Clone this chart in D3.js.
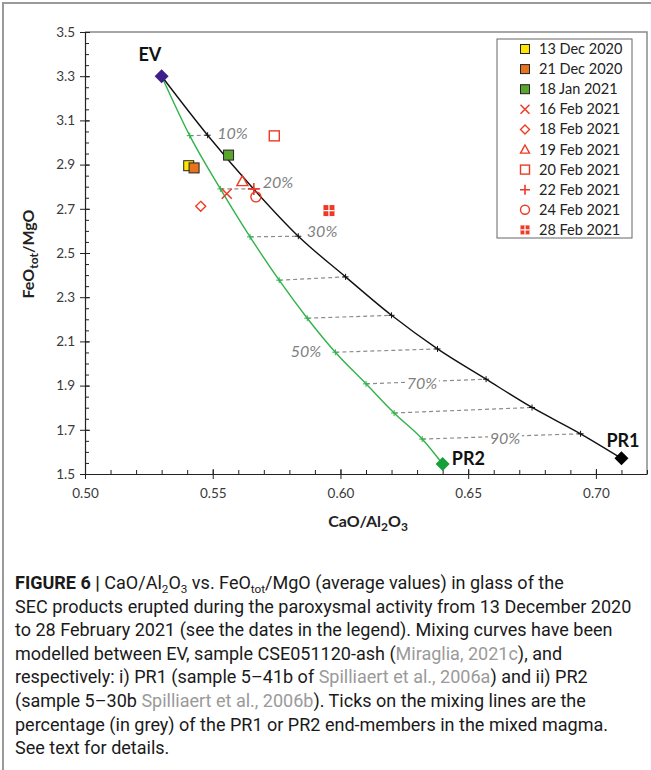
<!DOCTYPE html>
<html>
<head>
<meta charset="utf-8">
<script src="https://cdn.jsdelivr.net/npm/d3@7"></script>
<style>
  body { margin: 0; background: #fff; }
  svg { display: block; }
</style>
</head>
<body>
<svg id="fig" width="651" height="770"></svg>
<script>
// ---- data ----
const dates = ["13 Dec 2020", "21 Dec 2020", "18 Jan 2021", "16 Feb 2021", "18 Feb 2021",
               "19 Feb 2021", "20 Feb 2021", "22 Feb 2021", "24 Feb 2021", "28 Feb 2021"];
const caoAl2o3 = [0.5406, 0.5427, 0.5562, 0.5555, 0.5453, 0.5616, 0.5741, 0.5661, 0.5669, 0.5955];
const feoMgo   = [2.895, 2.885, 2.943, 2.768, 2.711, 2.825, 3.030, 2.790, 2.754, 2.692];

// end-members
const endNames = ["EV", "PR1", "PR2"];
const endX = [0.530, 0.710, 0.640];
const endY = [3.300, 1.571, 1.545];

// mixing ticks, 10% .. 90% of the PR end-member
const mixPercent = [10, 20, 30, 40, 50, 60, 70, 80, 90];
const pr1MixX = [0.548, 0.566, 0.5835, 0.602, 0.620, 0.638, 0.657, 0.675, 0.694];
const pr1MixY = [3.033, 2.790, 2.576, 2.392, 2.218, 2.066, 1.929, 1.801, 1.682];
const pr2MixX = [0.541, 0.553, 0.5646, 0.576, 0.587, 0.598, 0.610, 0.621, 0.632];
const pr2MixY = [3.031, 2.790, 2.573, 2.377, 2.205, 2.051, 1.908, 1.776, 1.658];

// grey percentage labels
const pctLabels = ["10%", "20%", "30%", "50%", "70%", "90%"];
const pctLabelX = [0.5577, 0.5755, 0.5928, 0.5865, 0.6319, 0.6644];
const pctLabelY = [3.042, 2.821, 2.600, 2.056, 1.908, 1.663];

// axis ticks
const xTicks = [0.50, 0.55, 0.60, 0.65, 0.70];
const yTicks = [1.5, 1.7, 1.9, 2.1, 2.3, 2.5, 2.7, 2.9, 3.1, 3.3, 3.5];

// ---- setup ----
let svg = d3.select("#fig");
let x = d3.scaleLinear().domain([0.50, 0.72]).range([85, 647]);
let y = d3.scaleLinear().domain([1.5, 3.5]).range([474, 32]);

const red = "#ee3a24";
// marker style per date (same order as dates)
const markerStyle = [
  {type: "square", fill: "#ffe600", stroke: "#222"},
  {type: "square", fill: "#e8731e", stroke: "#222"},
  {type: "square", fill: "#5ba52e", stroke: "#222"},
  {type: "x",      fill: "none", stroke: red},
  {type: "diamond",fill: "none", stroke: red},
  {type: "triangle",fill: "none", stroke: red},
  {type: "square", fill: "none", stroke: red},
  {type: "plus",   fill: "none", stroke: red},
  {type: "circle", fill: "none", stroke: red},
  {type: "grid",   fill: red, stroke: red}
];

function drawMarker(g, st, cx, cy, s) {
  let h = s / 2;
  if (st.type == "square") {
    g.append("rect").attr("x", cx - h).attr("y", cy - h).attr("width", s).attr("height", s)
      .attr("fill", st.fill).attr("stroke", st.stroke).attr("stroke-width", st.fill == "none" ? 1.4 : 1);
  } else if (st.type == "x") {
    g.append("path").attr("d", `M${cx-h},${cy-h}L${cx+h},${cy+h}M${cx-h},${cy+h}L${cx+h},${cy-h}`)
      .attr("stroke", st.stroke).attr("stroke-width", 1.5);
  } else if (st.type == "plus") {
    g.append("path").attr("d", `M${cx-h},${cy}L${cx+h},${cy}M${cx},${cy-h}L${cx},${cy+h}`)
      .attr("stroke", st.stroke).attr("stroke-width", 1.6);
  } else if (st.type == "diamond") {
    g.append("path").attr("d", `M${cx},${cy-h}L${cx+h},${cy}L${cx},${cy+h}L${cx-h},${cy}Z`)
      .attr("fill", st.fill).attr("stroke", st.stroke).attr("stroke-width", 1.4);
  } else if (st.type == "triangle") {
    g.append("path").attr("d", `M${cx},${cy-h}L${cx+h},${cy+h*0.8}L${cx-h},${cy+h*0.8}Z`)
      .attr("fill", st.fill).attr("stroke", st.stroke).attr("stroke-width", 1.4);
  } else if (st.type == "circle") {
    g.append("circle").attr("cx", cx).attr("cy", cy).attr("r", h)
      .attr("fill", st.fill).attr("stroke", st.stroke).attr("stroke-width", 1.4);
  } else if (st.type == "grid") {
    g.append("rect").attr("x", cx - h).attr("y", cy - h).attr("width", s).attr("height", s).attr("fill", st.fill);
    g.append("path").attr("d", `M${cx-h},${cy}L${cx+h},${cy}M${cx},${cy-h}L${cx},${cy+h}`)
      .attr("stroke", "#fff").attr("stroke-width", 1.2);
  }
}

// outer figure border
svg.append("path").attr("d", "M3,770V3H651").attr("fill", "none").attr("stroke", "#9a9a9a").attr("stroke-width", 2);

// plot frame (top/right grey)
svg.append("path")
  .attr("d", `M${x(0.50)},${y(3.5)}H${x(0.72)}V${y(1.5)}`)
  .attr("fill", "none").attr("stroke", "#8a8a8a").attr("stroke-width", 1.5);

// ---- axes ----
let minorX = d3.range(50, 73).map(d => d / 100);
let minorY = d3.range(30, 71).map(d => d / 20);

svg.append("g").attr("transform", `translate(0,${y(1.5)})`)
  .call(d3.axisBottom(x).tickValues(xTicks).tickSize(5).tickSizeOuter(0).tickPadding(9).tickFormat(d3.format(".2f")));
svg.append("g").attr("transform", `translate(0,${y(1.5)})`)
  .call(d3.axisTop(x).tickValues(xTicks).tickSize(5).tickFormat(""))
  .call(g => g.select(".domain").remove());
svg.append("g").attr("transform", `translate(0,${y(1.5)})`)
  .call(d3.axisTop(x).tickValues(minorX).tickSize(4).tickFormat(""))
  .call(g => g.select(".domain").remove());

svg.append("g").attr("transform", `translate(${x(0.5)},0)`)
  .call(d3.axisLeft(y).tickValues(yTicks).tickSize(5).tickSizeOuter(0).tickPadding(5).tickFormat(d3.format(".1f")));
svg.append("g").attr("transform", `translate(${x(0.5)},0)`)
  .call(d3.axisRight(y).tickValues(yTicks).tickSize(5).tickFormat(""))
  .call(g => g.select(".domain").remove());
svg.append("g").attr("transform", `translate(${x(0.5)},0)`)
  .call(d3.axisRight(y).tickValues(minorY).tickSize(4).tickFormat(""))
  .call(g => g.select(".domain").remove());

svg.selectAll(".tick line").attr("stroke", "#222");
svg.selectAll(".domain").attr("stroke", "#222").attr("stroke-width", 1.2);
svg.selectAll(".tick text").attr("font-family", "Lato, sans-serif").attr("font-size", 13.5).attr("fill", "#3a3a3a");

// axis titles
let xt = svg.append("text").attr("x", 368).attr("y", 527).attr("text-anchor", "middle")
  .attr("font-family", "Lato, sans-serif").attr("font-weight", "bold").attr("font-size", 16).attr("fill", "#222");
xt.append("tspan").text("CaO/Al");
xt.append("tspan").text("2").attr("font-size", 12).attr("dy", 4);
xt.append("tspan").text("O").attr("dy", -4);
xt.append("tspan").text("3").attr("font-size", 12).attr("dy", 4);

let yt = svg.append("text").attr("transform", "translate(34,254) rotate(-90)").attr("text-anchor", "middle")
  .attr("font-family", "Lato, sans-serif").attr("font-weight", "bold").attr("font-size", 16).attr("fill", "#222");
yt.append("tspan").text("FeO");
yt.append("tspan").text("tot").attr("font-size", 12).attr("dy", 4);
yt.append("tspan").text("/MgO").attr("dy", -4);

// ---- mixing curves ----
let line = d3.line().x(d => x(d[0])).y(d => y(d[1])).curve(d3.curveMonotoneX);
let pr1Curve = [[endX[0], endY[0]]].concat(pr1MixX.map((v, i) => [v, pr1MixY[i]]), [[endX[1], endY[1]]]);
let pr2Curve = [[endX[0], endY[0]]].concat(pr2MixX.map((v, i) => [v, pr2MixY[i]]), [[endX[2], endY[2]]]);

// dashed tie lines between equal percentages
svg.append("g").selectAll("line").data(mixPercent).enter().append("line")
  .attr("x1", (d, i) => x(pr2MixX[i])).attr("y1", (d, i) => y(pr2MixY[i]))
  .attr("x2", (d, i) => x(pr1MixX[i])).attr("y2", (d, i) => y(pr1MixY[i]))
  .attr("stroke", "#8c8c8c").attr("stroke-width", 1.2).attr("stroke-dasharray", "4,3");

svg.append("path").attr("d", line(pr2Curve)).attr("fill", "none").attr("stroke", "#2fb34a").attr("stroke-width", 1.4);
svg.append("path").attr("d", line(pr1Curve)).attr("fill", "none").attr("stroke", "#111").attr("stroke-width", 1.4);

// small tick crosses on the curves
function tickMarks(xs, ys, color) {
  svg.append("g").selectAll("path").data(xs).enter().append("path")
    .attr("d", (d, i) => `M${x(d)-3},${y(ys[i])}h6M${x(d)},${y(ys[i])-3}v6`)
    .attr("stroke", color).attr("stroke-width", 1);
}
tickMarks(pr1MixX, pr1MixY, "#111");
tickMarks(pr2MixX, pr2MixY, "#2fb34a");

// percentage labels
let pl = svg.append("g").selectAll("g").data(pctLabels).enter().append("g")
  .attr("transform", (d, i) => `translate(${x(pctLabelX[i])},${y(pctLabelY[i])})`);
pl.append("rect").attr("x", -17).attr("y", -9).attr("width", 34).attr("height", 18).attr("fill", "#fff");
pl.append("text").text(d => d).attr("text-anchor", "middle").attr("dy", "0.35em")
  .attr("font-family", "Lato, sans-serif").attr("font-style", "italic").attr("font-size", 16).attr("fill", "#7f7f7f");

// ---- samples ----
let pts = svg.append("g");
dates.forEach((d, i) => {
  let t = markerStyle[i].type;
  let s = t == "plus" ? 12 : (t == "triangle" || t == "grid") ? 11 : 10;
  drawMarker(pts, markerStyle[i], x(caoAl2o3[i]), y(feoMgo[i]), s);
});

// ---- end-members ----
const endColors = ["#3e1f8c", "#000", "#17a03a"];
svg.append("g").selectAll("path").data(endNames).enter().append("path")
  .attr("d", (d, i) => { let cx = x(endX[i]), cy = y(endY[i]); return `M${cx},${cy-7}L${cx+7},${cy}L${cx},${cy+7}L${cx-7},${cy}Z`; })
  .attr("fill", (d, i) => endColors[i]);

const endLabelX = [0.5254, 0.7106, 0.6501];
const endLabelY = [3.396, 1.650, 1.567];
svg.append("g").selectAll("text").data(endNames).enter().append("text")
  .attr("x", (d, i) => x(endLabelX[i])).attr("y", (d, i) => y(endLabelY[i]))
  .attr("dy", "0.35em").attr("text-anchor", "middle").text(d => d)
  .attr("font-family", "Lato, sans-serif").attr("font-weight", "bold").attr("font-size", 18).attr("fill", "#111");

// ---- legend ----
let legend = svg.append("g");
legend.append("rect").attr("x", 497).attr("y", 39).attr("width", 135).attr("height", 199)
  .attr("fill", "#fff").attr("stroke", "#666").attr("stroke-width", 1);
dates.forEach((d, i) => {
  let ly = 49 + i * 20.1;
  drawMarker(legend, markerStyle[i], 525, ly, markerStyle[i].type == "plus" ? 10 : 9);
  legend.append("text").attr("x", 539).attr("y", ly).attr("dy", "0.35em").text(d)
    .attr("font-family", "Lato, sans-serif").attr("font-size", 14.5).attr("fill", "#222");
});

// ---- caption ----
const captionLines = [
  [["FIGURE 6 | ", "b"], ["CaO/Al", ""], ["2", "sub"], ["O", ""], ["3", "sub"], [" vs. FeO", ""], ["tot", "sub"], ["/MgO (average values) in glass of the", ""]],
  [["SEC products erupted during the paroxysmal activity from 13 December 2020", ""]],
  [["to 28 February 2021 (see the dates in the legend). Mixing curves have been", ""]],
  [["modelled between EV, sample CSE051120-ash (", ""], ["Miraglia, 2021c", "g"], ["), and", ""]],
  [["respectively: i) PR1 (sample 5\u201341b of ", ""], ["Spilliaert et al., 2006a", "g"], [") and ii) PR2", ""]],
  [["(sample 5\u201330b ", ""], ["Spilliaert et al., 2006b", "g"], ["). Ticks on the mixing lines are the", ""]],
  [["percentage (in grey) of the PR1 or PR2 end-members in the mixed magma.", ""]],
  [["See text for details.", ""]]
];
let cap = svg.append("g").attr("font-family", "Roboto, sans-serif").attr("fill", "#1a1a1a");
let capSize = 17;
captionLines.forEach((parts, li) => {
  let t = cap.append("text").attr("x", 15).attr("y", 589 + li * 23.6).attr("font-size", capSize);
  parts.forEach((p, pi) => {
    let ts = t.append("tspan").text(p[0]);
    if (p[1] == "b") ts.attr("font-weight", "bold");
    if (p[1] == "g") ts.attr("fill", "#9a9a9a");
    if (p[1] == "sub") ts.attr("font-size", capSize * 0.65).attr("dy", 4);
    else if (pi > 0 && parts[pi - 1][1] == "sub") ts.attr("dy", -4);
  });
});
// fit caption width to the reference (line 2 spans ~617px)
let l2 = cap.selectAll("text").nodes()[1].getComputedTextLength();
let k = 617 / l2;
cap.selectAll("text").attr("font-size", capSize * k);
cap.selectAll("tspan").filter(function() { return d3.select(this).attr("font-size"); })
  .attr("font-size", capSize * k * 0.65);
</script>
</body>
</html>
